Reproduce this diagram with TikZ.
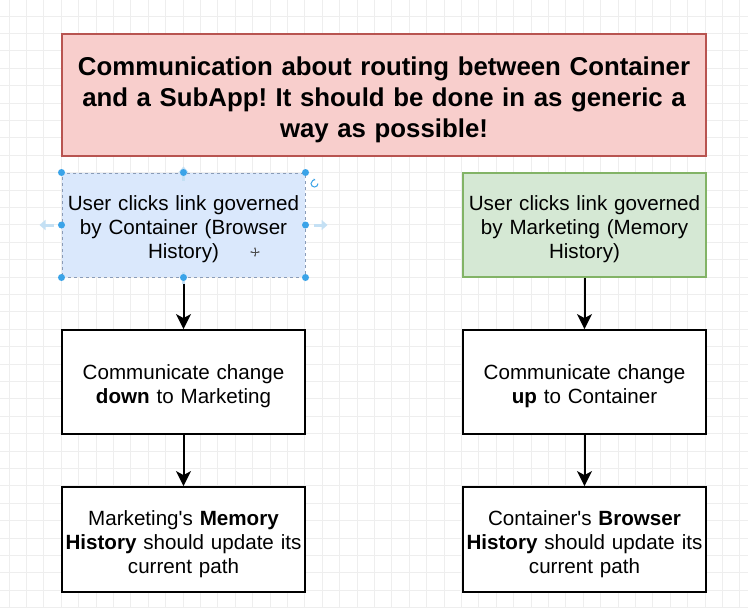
\documentclass[tikz,border=0pt]{standalone}
\usepackage{fontspec}
\setmainfont{Liberation Sans}[Ligatures=TeXOff]
\usetikzlibrary{arrows.meta}
\definecolor{gridc}{HTML}{EEEEEE}
\definecolor{redfill}{HTML}{F8CECC}
\definecolor{redline}{HTML}{B85450}
\definecolor{bluefill}{HTML}{DAE8FC}
\definecolor{blueline}{HTML}{8A9CB8}
\definecolor{greenfill}{HTML}{D5E8D4}
\definecolor{greenline}{HTML}{82B366}
\definecolor{handle}{HTML}{3AA3E8}
\definecolor{hint}{HTML}{C4E0F4}
\tikzset{
  box/.style={draw=black, line width=1.8pt, fill=white, minimum width=243pt, inner sep=0pt},
  txt/.style={text width=240pt, align=center, font=\fontsize{20.6}{24.2}\selectfont, inner sep=0pt},
  titlebox/.style={draw=redline, line width=1.8pt, fill=redfill, minimum width=644pt, minimum height=122pt, inner sep=0pt},
  titletxt/.style={text width=640pt, align=center, font=\fontsize{25.8}{31}\selectfont\bfseries, inner sep=0pt},
  conn/.style={line width=2pt, -{Stealth[length=15pt,width=15pt,inset=4pt]}},
  hdl/.style={circle, fill=handle, inner sep=0pt, minimum size=7pt},
  hintarrow/.style={draw=hint, line width=3pt, -{Triangle[length=6pt,width=10pt]}}
}
\begin{document}
\frenchspacing
\begin{tikzpicture}[x=1pt,y=-1pt]
\useasboundingbox (0,0) rectangle (748,608);
\fill[white] (0,0) rectangle (748,608);
% grid
\foreach \i in {0,...,43} {\draw[gridc, line width=0.7pt] ({-8.4+17.4*\i},0) -- ({-8.4+17.4*\i},608);}
\foreach \j in {0,...,35} {\draw[gridc, line width=0.7pt] (0,{-1.4+17.4*\j}) -- (748,{-1.4+17.4*\j});}

\node[titlebox] (title) at (384,95) {};
\node[titletxt] (titlet) at ([yshift=-4.5pt]title.center) {Communication about routing between Container\\and a SubApp! It should be done in as generic a\\way as possible!};

\node[box, fill=bluefill, draw=blueline, dashed, line width=1pt, minimum height=104pt] (b1) at (183.5,225) {};
\node[txt] (b1t) at ([yshift=-4pt]b1.center) {User clicks link governed\\by Container (Browser\\History)};
\node[box, fill=greenfill, draw=greenline, minimum height=104pt] (g1) at (584.5,225) {};
\node[txt] (g1t) at ([yshift=-4pt]g1.center) {User clicks link governed\\by Marketing (Memory\\History)};

\node[box, minimum height=104pt] (b2) at (183.5,382) {};
\node[txt] (b2t) at ([yshift=-4.5pt]b2.center) {Communicate change\\\textbf{down} to Marketing};
\node[box, minimum height=104pt] (g2) at (584.5,382) {};
\node[txt] (g2t) at ([yshift=-4.5pt]g2.center) {Communicate change\\\textbf{up} to Container};

\node[box, minimum height=105pt] (b3) at (183.5,539.5) {};
\node[txt] (b3t) at ([yshift=-4.5pt]b3.center) {Marketing's \textbf{Memory}\\\textbf{History} should update its\\current path};
\node[box, minimum height=105pt] (g3) at (584.5,539.5) {};
\node[txt] (g3t) at ([yshift=-4.5pt]g3.center) {Container's \textbf{Browser}\\\textbf{History} should update its\\current path};

\draw[conn] (b1) -- (b2);
\draw[conn] (b2) -- (b3);
\draw[conn] (g1) -- (g2);
\draw[conn] (g2) -- (g3);

% selection hints
\draw[hintarrow] ([yshift=-8pt]b1.north) -- ++(0,-14);
\draw[hintarrow] ([xshift=-8pt]b1.west) -- ++(-14,0);
\draw[hintarrow] ([xshift=8pt]b1.east) -- ++(14,0);
\draw[hint, line width=2.5pt] ([yshift=6pt]b1.south) -- ++(0,12);
% handles
\foreach \a in {north west, north, north east, west, east, south west, south, south east}
  \node[hdl] at (b1.\a) {};
\coordinate (rot) at ([xshift=9pt,yshift=-11pt]b1.north east);
\draw[handle, line width=1pt, -{Stealth[length=2.5pt]}] ([shift={(3.5,0)}]rot) arc[start angle=0, end angle=290, radius=3.5];
% move cursor
\coordinate (cur) at (255,252);
\draw[black!70, line width=0.9pt, {Stealth[length=2.5pt]}-{Stealth[length=2.5pt]}] ([xshift=-5pt]cur) -- ([xshift=5pt]cur);
\draw[black!70, line width=0.9pt, {Stealth[length=2.5pt]}-{Stealth[length=2.5pt]}] ([yshift=-5pt]cur) -- ([yshift=5pt]cur);
\end{tikzpicture}
\end{document}
